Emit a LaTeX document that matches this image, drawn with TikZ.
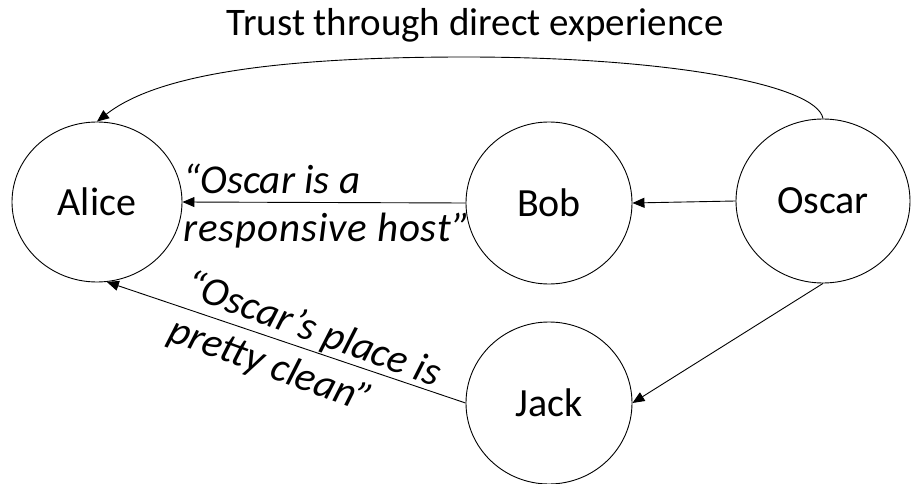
\documentclass[tikz,border=0pt]{standalone}
\usepackage{fontspec}
\setmainfont{Carlito}
\usetikzlibrary{shapes.geometric,arrows.meta}

\tikzset{
  person/.style={draw, ellipse, line width=0.9pt, inner sep=0pt,
                 font=\fontsize{40}{48}\selectfont},
  quote/.style={inner sep=0pt, align=left,
                font=\fontsize{41}{48}\selectfont\itshape},
  link/.style={line width=0.9pt, -{Triangle[length=12pt,width=10pt]}}
}

\begin{document}
\begin{tikzpicture}[x=1pt, y=-1pt]
  \useasboundingbox (0,0) rectangle (911,484);

  % title
  \node[inner sep=0pt, font=\fontsize{39}{48}\selectfont] (title) at (475,25)
    {Trust through direct experience};

  % the four people
  \node[person, minimum width=170pt, minimum height=160pt] (alice) at (97,202) {Alice};
  \node[person, minimum width=166pt, minimum height=162pt] (bob)   at (549,203) {Bob};
  \node[person, minimum width=174pt, minimum height=164pt] (oscar) at (823,201) {Oscar};
  \node[person, minimum width=166pt, minimum height=162pt] (jack)  at (549,403) {Jack};

  % direct experience, arching over the top
  \coordinate (apex) at (465,57);
  \draw[link] (oscar.north) .. controls (817,85) and (670,57) .. (apex)
                            .. controls (250,57) and (150,80) .. (alice.north);

  % reports passed on
  \draw[link] (oscar.west) -- (bob.east);
  \draw[link] (bob.west) -- (alice.east);
  \draw[link] (oscar.south) -- (jack.east);
  \draw[link] (jack.west) -- (alice.-83);

  % what was said
  \node[quote] (bobsays) at (327,206)
    {“Oscar is a\\{\addfontfeature{LetterSpace=2}responsive host”}};
  \node[quote, rotate=-20] (jacksays) at (305,353) {“Oscar’s place is\\pretty clean”};
\end{tikzpicture}
\end{document}
